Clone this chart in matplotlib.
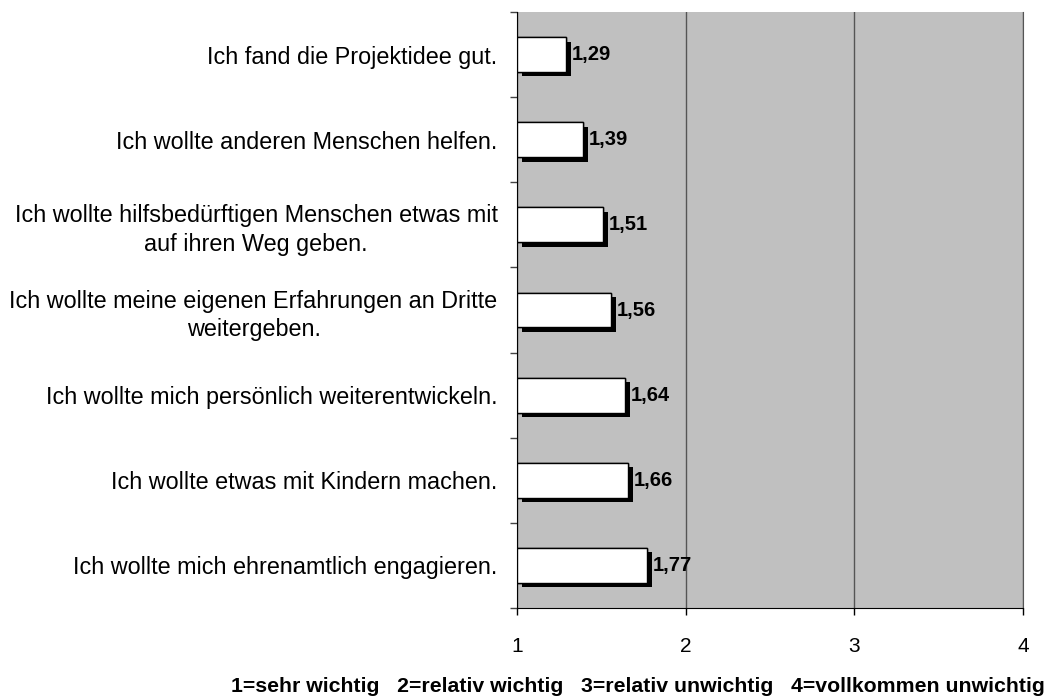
import matplotlib.pyplot as plt
import matplotlib.patheffects as pe

plt.rcParams['font.family'] = ['Liberation Sans', 'DejaVu Sans']

# Motive, von oben nach unten
motive = [
    "Ich fand die Projektidee gut.",
    "Ich wollte anderen Menschen helfen.",
    "Ich wollte hilfsbedürftigen Menschen etwas mit\nauf ihren Weg geben.",
    "Ich wollte meine eigenen Erfahrungen an Dritte\nweitergeben.",
    "Ich wollte mich persönlich weiterentwickeln.",
    "Ich wollte etwas mit Kindern machen.",
    "Ich wollte mich ehrenamtlich engagieren.",
]
mittelwerte = [1.29, 1.39, 1.51, 1.56, 1.64, 1.66, 1.77]
x_ticks = [1, 2, 3, 4]
legende = "1=sehr wichtig   2=relativ wichtig   3=relativ unwichtig   4=vollkommen unwichtig"

fig = plt.figure(figsize=(10.5, 6.98), dpi=100)
ax = fig.add_axes([517 / 1050, 1 - 608 / 698, (1023 - 517) / 1050, (608 - 12) / 698])
ax.set_facecolor('#c0c0c0')

pos = list(range(len(motive)))
basis = x_ticks[0]
bars = ax.barh(pos, [m - basis for m in mittelwerte], left=basis, height=0.41,
               color='white', edgecolor='black', linewidth=1, zorder=3)
for b in bars:
    b.set_path_effects([pe.withSimplePatchShadow(offset=(3.5, -3.2), shadow_rgbFace='black', alpha=1.0),
                        pe.Normal()])

for p, m in zip(pos, mittelwerte):
    ax.annotate(f"{m:.2f}".replace('.', ','), (m, p), xytext=(4, 0), textcoords='offset points',
                ha='left', va='center', fontsize=14.5, fontweight='bold', zorder=4)

ax.set_xlim(1, 4)
ax.set_ylim(len(motive) - 0.5, -0.5)
ax.set_xticks(x_ticks)
ax.set_xticklabels([str(t) for t in x_ticks], fontsize=15)
ax.tick_params(axis='x', length=5, width=1, pad=16, color='black')

ax.set_yticks(pos)
ax.set_yticklabels(motive, fontsize=16.8, multialignment='center', linespacing=1.32)
ax.tick_params(axis='y', which='major', length=0, pad=14)
ax.set_yticks([p + 0.5 for p in range(-1, len(motive))], minor=True)
ax.tick_params(axis='y', which='minor', length=5, width=1, color='#444444')

ax.grid(axis='x', color='#555555', linewidth=1, zorder=1)
ax.set_axisbelow(True)
ax.spines['top'].set_visible(False)
ax.spines['right'].set_color('#555555')
ax.spines['left'].set_color('black')
ax.spines['bottom'].set_color('black')

fig.text(638 / 1050, 1 - 687 / 698, legende, ha='center', va='center', fontsize=15.3, fontweight='bold')

plt.savefig("out.png", dpi=100)
